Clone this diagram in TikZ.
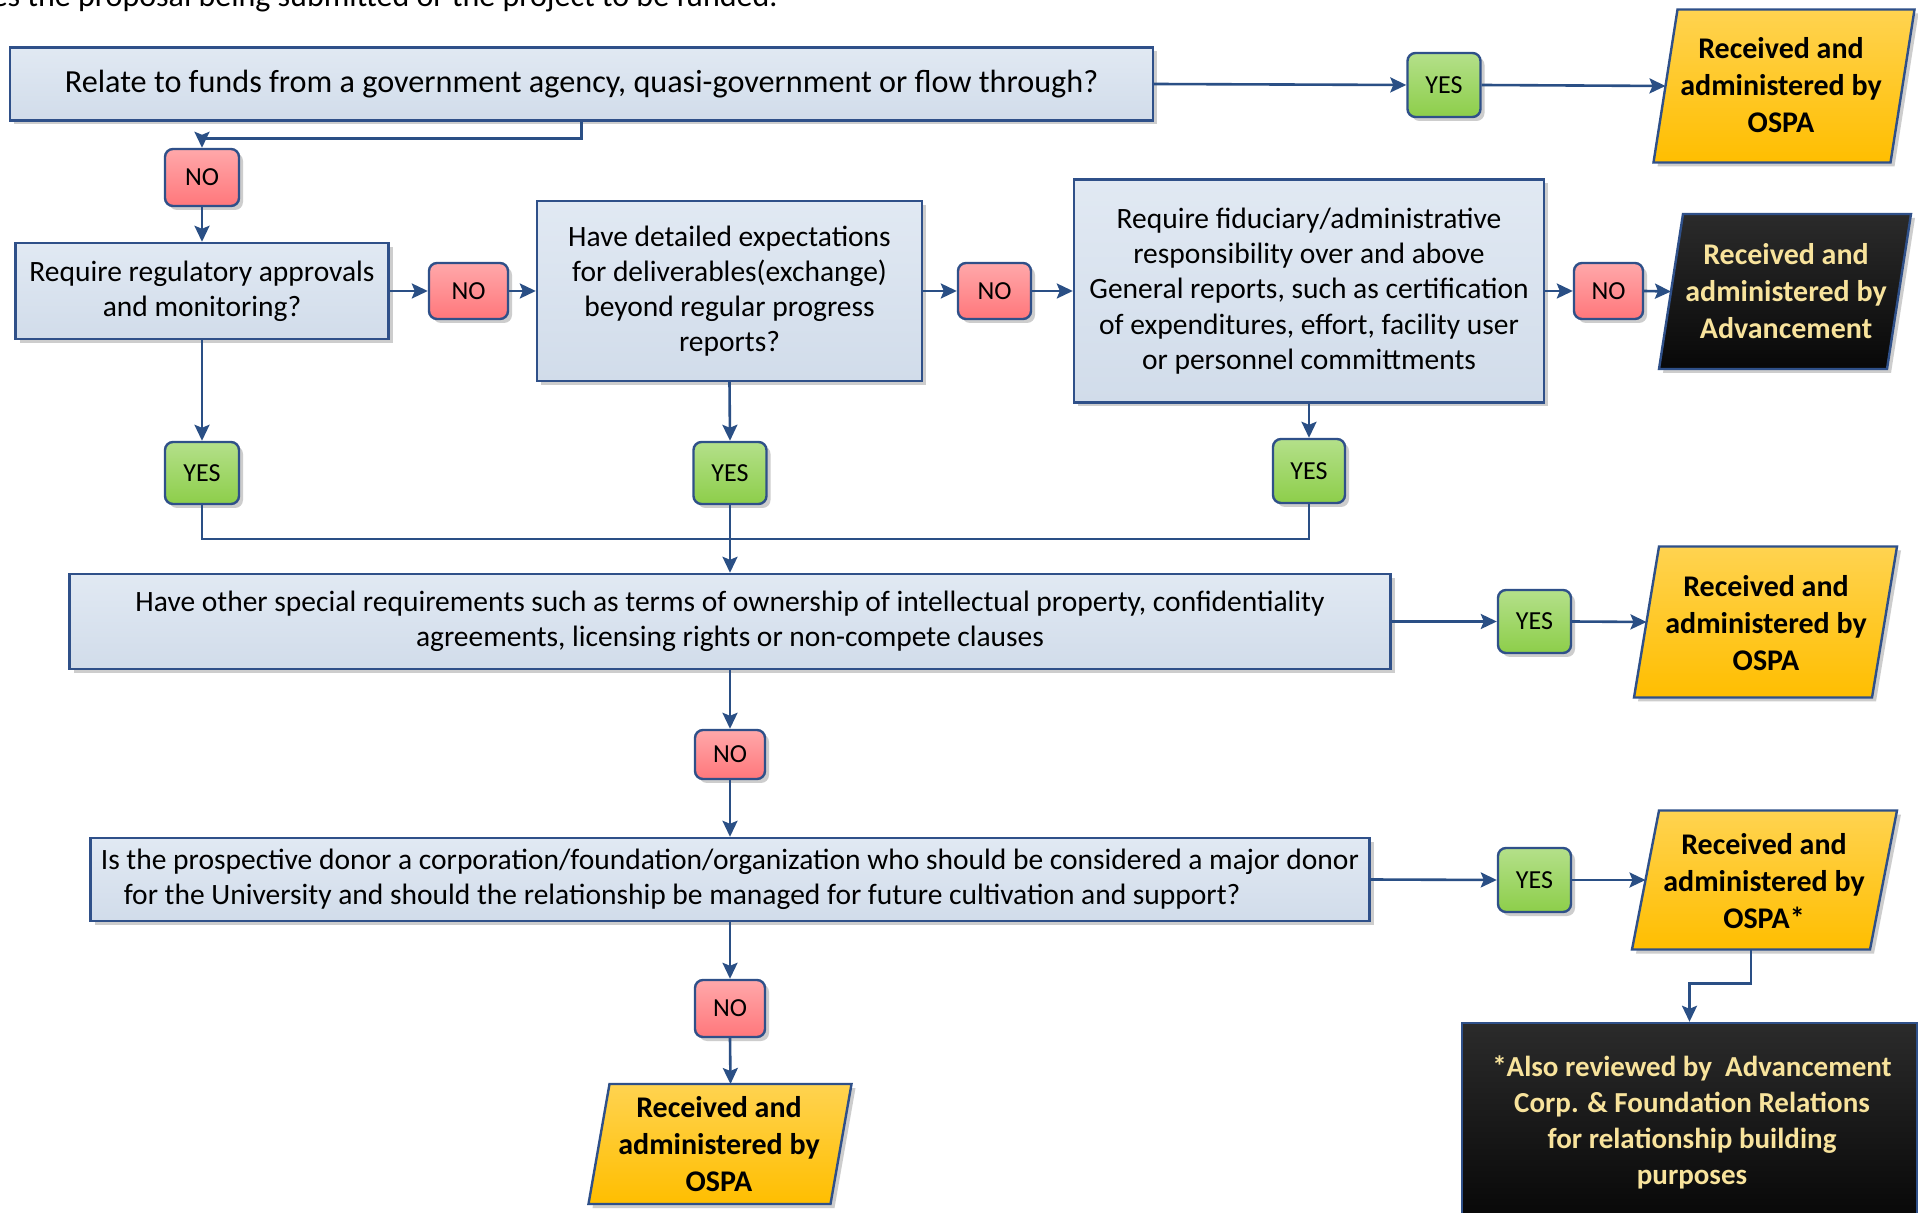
\documentclass[tikz,border=0pt]{standalone}
\usepackage{fontspec}
\setmainfont{Carlito}
\usetikzlibrary{arrows.meta,shadows,calc}
\definecolor{bord}{HTML}{2F5089}
\definecolor{lineC}{HTML}{2A4F85}
\definecolor{blueT}{HTML}{E1E9F3}
\definecolor{blueB}{HTML}{D1DCEA}
\definecolor{pinkT}{HTML}{FFA8AA}
\definecolor{pinkB}{HTML}{FF777B}
\definecolor{greenT}{HTML}{B4E08A}
\definecolor{greenB}{HTML}{8DCE4A}
\definecolor{yelT}{HTML}{FFD350}
\definecolor{yelB}{HTML}{FFBE00}
\definecolor{blkT}{HTML}{2B2B2B}
\definecolor{blkB}{HTML}{080808}
\definecolor{paleY}{HTML}{F8E39C}
\newcommand\paragr[7]{%
  \path[#7] ({#2-#4/2+#6/2},{#3-#5/2}) -- ({#2+#4/2+#6/2},{#3-#5/2}) --
        ({#2+#4/2-#6/2},{#3+#5/2}) -- ({#2-#4/2-#6/2},{#3+#5/2}) -- cycle;
  \coordinate (#1-w) at ({#2-#4/2},#3);
  \coordinate (#1-n) at ({#2+#6/2},{#3-#5/2});
  \coordinate (#1-s) at ({#2-#6/2},{#3+#5/2});
}
\begin{document}
\begin{tikzpicture}[x=0.5pt,y=-0.5pt,
  shad/.style={drop shadow={shadow xshift=2pt,shadow yshift=-2pt,opacity=0.28,fill=black!70}},
  qbox/.style={draw=bord,line width=1.2pt,top color=blueT,bottom color=blueB,shad,
               inner sep=0pt,align=center,font=\fontsize{14.75}{17.6}\selectfont},
  nobox/.style={draw=bord,line width=1.2pt,rounded corners=4pt,top color=pinkT,
               bottom color=pinkB,shad,inner sep=0pt,font=\fontsize{13}{15}\selectfont},
  yesbox/.style={nobox,top color=greenT,bottom color=greenB},
  yel/.style={draw=bord,line width=1.2pt,top color=yelT,bottom color=yelB,shad},
  blk/.style={draw=bord,line width=1.2pt,top color=blkT,bottom color=blkB,shad},
  outtext/.style={align=center,font=\bfseries\fontsize{15}{18.6}\selectfont,inner sep=0pt},
  arr/.style={draw=lineC,line width=1.3pt,-{Stealth[length=8pt,width=7.5pt,inset=1.5pt]}},
  ln/.style={draw=lineC,line width=1.3pt},
]
\useasboundingbox (0,0) rectangle (1918,1213);
\clip (0,0) rectangle (1918,1213);
\fill[white] (0,0) rectangle (1918,1213);

\node[anchor=base east,inner sep=0pt,font=\fontsize{16}{19}\selectfont] (top) at (778,7)
  {Does the proposal being submitted or the project to be funded.};

% row 1
\node[qbox,minimum width=571.5pt,minimum height=36.5pt,font=\fontsize{16.1}{19}\selectfont] (A) at (581.5,84)
  {Relate to funds from a government agency, quasi-government or flow through?};
\node[yesbox,minimum width=36.5pt,minimum height=32pt] (Y1) at (1444,85) {YES};
\paragr{O1}{1784}{86}{237}{153}{24}{yel}
\node[outtext] (T1) at (1781,85) {Received and\\administered by\\OSPA};

% row 2
\node[nobox,minimum width=37pt,minimum height=28.5pt] (N1) at (202,177.5) {NO};
\node[qbox,minimum width=186.5pt,minimum height=48pt] (B) at (202,291)
  {Require regulatory approvals\\and monitoring?};
\node[nobox,minimum width=39.5pt,minimum height=28pt] (N2) at (468.5,291) {NO};
\node[qbox,minimum width=192.5pt,minimum height=90pt] (C) at (729.5,291)
  {Have detailed expectations\\for deliverables(exchange)\\beyond regular progress\\reports?};
\node[nobox,minimum width=36.5pt,minimum height=28pt] (N3) at (994.5,291) {NO};
\node[qbox,minimum width=235pt,minimum height=111.5pt] (D) at (1309,291)
  {Require fiduciary/administrative\\responsibility over and above\\General reports, such as certification\\of expenditures, effort, facility user\\or personnel committments};
\node[nobox,minimum width=34.5pt,minimum height=28pt] (N4) at (1608.5,291) {NO};
\paragr{O2}{1785}{291.5}{228}{155}{24}{blk}
\node[outtext,text=paleY] (T2) at (1786,291) {Received and\\administered by\\Advancement};

% yes row
\node[yesbox,minimum width=37pt,minimum height=31pt] (Y2) at (202,473) {YES};
\node[yesbox,minimum width=36.5pt,minimum height=31pt] (Y3) at (730,473) {YES};
\node[yesbox,minimum width=36pt,minimum height=32pt] (Y4) at (1309,471) {YES};
\coordinate (J) at (730,539);

% row E
\node[qbox,minimum width=660.5pt,minimum height=47.5pt] (E) at (730,621.5)
  {Have other special requirements such as terms of ownership of intellectual property, confidentiality\\agreements, licensing rights or non-compete clauses};
\node[yesbox,minimum width=36.5pt,minimum height=31.5pt] (Y5) at (1534.5,621.5) {YES};
\paragr{O3}{1765.5}{622}{238}{151}{25}{yel}
\node[outtext] (T3) at (1766,623) {Received and\\administered by\\OSPA};

\node[nobox,minimum width=35pt,minimum height=24.5pt] (N5) at (730,754.5) {NO};

% row F
\node[qbox,minimum width=639.5pt,minimum height=41.5pt,align=left] (F) at (730,879.5)
  {Is the prospective donor a corporation/foundation/organization who should be considered a major donor\\\hspace*{11.5pt}for the University and should the relationship be managed for future cultivation and support?};
\node[yesbox,minimum width=36.5pt,minimum height=32pt] (Y6) at (1534.5,880) {YES};
\paragr{O4}{1764.5}{880}{238}{139}{27}{yel}
\node[outtext] (T4) at (1764,881) {Received and\\administered by\\OSPA*};

\node[nobox,minimum width=35pt,minimum height=28.5pt] (N6) at (730,1008.5) {NO};
\paragr{O5}{720}{1144}{242}{120}{21}{yel}
\node[outtext] (T5) at (719,1144) {Received and\\administered by\\OSPA};

% black note box
\node[draw=bord,line width=1.2pt,top color=blkT,bottom color=black,inner sep=0pt,
      minimum width=227.5pt,minimum height=120pt] (G) at (1689.5,1143) {};
\node[text=paleY,align=center,inner sep=0pt,font=\bfseries\fontsize{14.5}{18}\selectfont] (GT) at (1692,1122)
  {*Also reviewed by~ Advancement\\Corp. \& Foundation Relations\\for relationship building\\purposes};

% connectors
\draw[arr] (A.east) -- (Y1.west);
\draw[arr] (Y1.east) -- (O1-w);
\draw[arr] (A.south) -- ++(0,17) -| (N1.north);
\draw[arr] (N1.south) -- (B.north);
\draw[arr] (B.east) -- (N2.west);
\draw[arr] (N2.east) -- (C.west);
\draw[arr] (C.east) -- (N3.west);
\draw[arr] (N3.east) -- (D.west);
\draw[arr] (D.east) -- (N4.west);
\draw[arr] (N4.east) -- (O2-w);
\draw[arr] (B.south) -- (Y2.north);
\draw[arr] (C.south) -- (Y3.north);
\draw[arr] (D.south) -- (Y4.north);
\draw[ln] (Y2.south) |- (J);
\draw[ln] (Y4.south) |- (J);
\draw[arr] (Y3.south) -- (E.north);
\draw[arr] (E.east) -- (Y5.west);
\draw[arr] (Y5.east) -- (O3-w);
\draw[arr] (E.south) -- (N5.north);
\draw[arr] (N5.south) -- (F.north);
\draw[arr] (F.east) -- (Y6.west);
\draw[arr] (Y6.east) -- (O4-w);
\draw[arr] (F.south) -- (N6.north);
\draw[arr] (N6.south) -- (O5-n);
\draw[arr] (O4-s) -- ++(0,34) -| (G.north);
\end{tikzpicture}
\end{document}
